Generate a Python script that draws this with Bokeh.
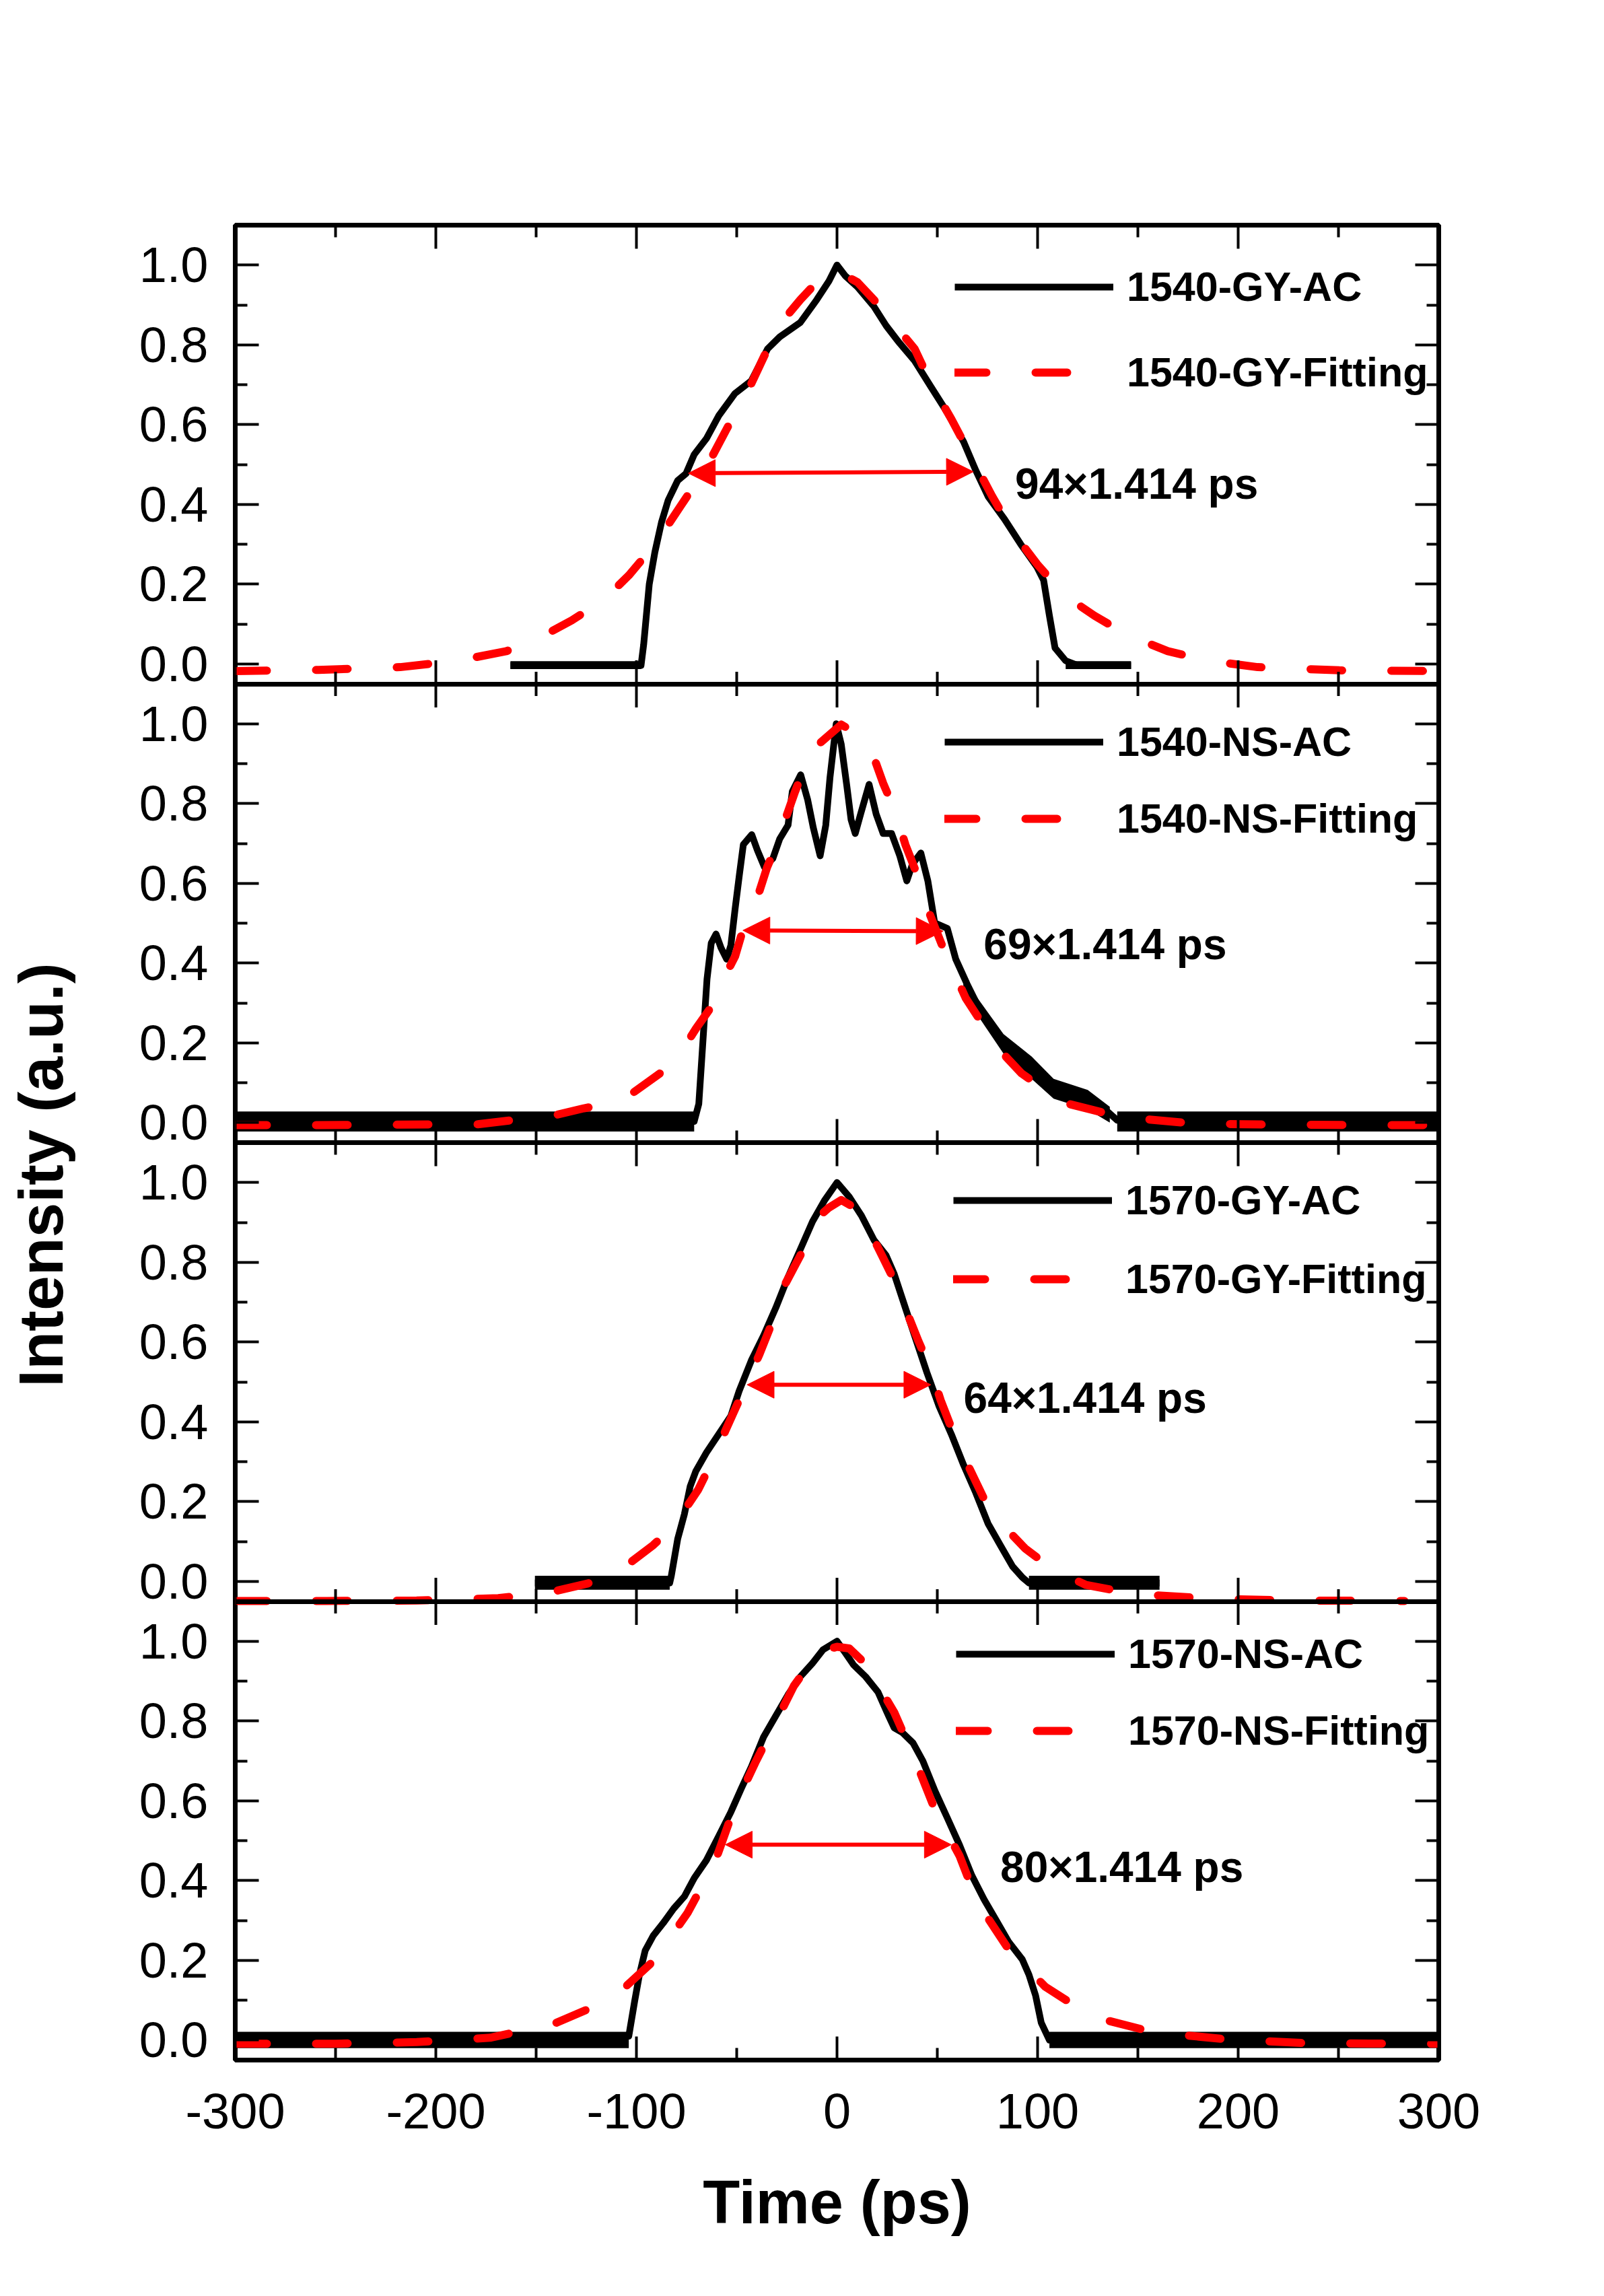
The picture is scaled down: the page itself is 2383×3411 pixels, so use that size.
import math
from bokeh.plotting import figure
from bokeh.models import (Range1d, LinearAxis, FixedTicker, PrintfTickFormatter,
                          Legend, LegendItem, Arrow, NormalHead, Label)
from bokeh.layouts import row, column
from bokeh.embed import file_html
from bokeh.resources import INLINE

FONT = "Liberation Sans"

# ---------------- data ----------------
x_major = [-300, -200, -100, 0, 100, 200, 300]
x_minor = [-250, -150, -50, 50, 150, 250]
y_major = [0.0, 0.2, 0.4, 0.6, 0.8, 1.0]
y_minor = [0.1, 0.3, 0.5, 0.7, 0.9]
x_lo, x_hi = -300, 300
y_lo, y_hi = -0.05, 1.1

names = ["1540-GY", "1540-NS", "1570-GY", "1570-NS"]
fwhm_labels = ["94\u00d71.414 ps", "69\u00d71.414 ps", "64\u00d71.414 ps", "80\u00d71.414 ps"]

# panel 1: 1540-GY
p1_ac_x = [-162.8, -130.0, -97.7, -96.4, -93.6, -90.8, -87.5, -84.2, -79.4, -75.3,
           -71.2, -65.1, -59.0, -50.9, -42.7, -38.6, -34.6, -28.5, -18.3, -10.1,
           -4.0, 0.0, 4.1, 10.2, 18.4, 24.5, 30.6, 38.7, 46.8, 55.0,
           63.1, 69.2, 75.3, 83.5, 91.6, 99.8, 103.0, 105.9, 108.7, 114.0,
           120.1, 146.6]
p1_ac_y = [-0.004, -0.003, -0.004, 0.048, 0.2, 0.28, 0.355, 0.41, 0.46, 0.477,
           0.525, 0.565, 0.622, 0.678, 0.71, 0.75, 0.79, 0.82, 0.856, 0.913,
           0.96, 1.0, 0.973, 0.945, 0.896, 0.848, 0.808, 0.76, 0.695, 0.63,
           0.557, 0.485, 0.42, 0.363, 0.3, 0.242, 0.21, 0.121, 0.04, 0.008,
           -0.004, -0.004]
p1_fit_x = [-300, -258.5, -217.8, -189.3, -164.8, -148.6, -132.3, -116, -103.8, -93.6,
            -85.5, -75.3, -65.1, -54.9, -42.7, -34.6, -26.4, -18.3, -10.1, 0,
            10.2, 18.4, 26.5, 38.7, 46.8, 57, 67.2, 77.4, 87.6, 99.8,
            114, 128.3, 144.6, 164.9, 185.3, 209.7, 250.4, 300]
p1_fit_y = [-0.018, -0.015, -0.008, 0.008, 0.032, 0.065, 0.109, 0.162, 0.222, 0.283,
            0.339, 0.416, 0.493, 0.59, 0.703, 0.79, 0.864, 0.913, 0.957, 0.985,
            0.957, 0.913, 0.864, 0.79, 0.703, 0.614, 0.517, 0.42, 0.331, 0.25,
            0.17, 0.121, 0.073, 0.032, 0.008, -0.008, -0.016, -0.018]
p1_band = [([-162.8, -97.7], [-0.013, -0.013], [0.007, 0.007]),
           ([114.0, 146.6], [-0.013, -0.013], [0.007, 0.007])]

# panel 2: 1540-NS
p2_ac_x = [-300, -71.2, -68.9, -66.9, -64.8, -62.7, -60.3, -57.8, -55.0, -52.9,
           -50.8, -48.7, -46.7, -42.5, -39.7, -36.2, -32.0, -28.6, -24.4, -22.3,
           -18.1, -14.6, -11.8, -8.4, -5.6, -3.5, -0.4, 2.1, 4.9, 7.0,
           9.1, 11.8, 16.0, 19.5, 23.0, 27.2, 31.3, 34.8, 37.6, 41.8,
           45.3, 48.7, 55.0, 59.2, 64.8, 70.3, 75.9, 82.9, 88.4, 96.8,
           107.9, 119.1, 130.2, 134.4, 139.7, 300]
p2_ac_y = [0.003, 0.003, 0.047, 0.20, 0.36, 0.45, 0.473, 0.438, 0.41, 0.445,
           0.536, 0.62, 0.697, 0.722, 0.683, 0.641, 0.662, 0.711, 0.746, 0.83,
           0.872, 0.809, 0.739, 0.669, 0.746, 0.865, 1.0, 0.949, 0.844, 0.76,
           0.725, 0.774, 0.848, 0.774, 0.725, 0.725, 0.669, 0.606, 0.648, 0.676,
           0.606, 0.501, 0.487, 0.41, 0.348, 0.292, 0.25, 0.2, 0.159, 0.131,
           0.096, 0.075, 0.047, 0.03, 0.006, 0.003]
p2_fit_x = [-300, -258.5, -217.8, -179.1, -140.4, -126.2, -107.8, -84.3, -77.3, -70.3,
            -63.4, -56.4, -50.8, -46.7, -39.7, -34.8, -30.0, -25.8, -20.9, -16.0,
            -9.1, 2.1, 11.8, 18.8, 23.0, 29.2, 34.1, 39.0, 42.5, 47.4,
            52.9, 57.8, 64.1, 73.1, 81.5, 91.9, 101.7, 115.6, 126.7, 140.5,
            177.1, 217.8, 258.5, 300]
p2_fit_y = [-0.006, -0.006, -0.005, -0.004, 0.019, 0.036, 0.053, 0.138, 0.18, 0.236,
            0.285, 0.362, 0.417, 0.487, 0.564, 0.641, 0.697, 0.76, 0.83, 0.893,
            0.949, 0.998, 0.97, 0.91, 0.851, 0.778, 0.697, 0.634, 0.571, 0.508,
            0.438, 0.383, 0.313, 0.243, 0.18, 0.124, 0.089, 0.047, 0.033, 0.015,
            -0.002, -0.005, -0.006, -0.006]
p2_band = [([-300, -71.2], [-0.022, -0.022], [0.028, 0.028]),
           ([139.7, 300], [-0.022, -0.022], [0.028, 0.028]),
           ([63, 70, 83, 97, 108, 125, 136],
            [0.33, 0.27, 0.173, 0.11, 0.06, 0.033, 0.0],
            [0.37, 0.313, 0.222, 0.166, 0.11, 0.082, 0.04])]

# panel 3: 1570-GY
p3_ac_x = [-150.6, -83.4, -82.6, -79.4, -76.1, -73.2, -70.4, -65.1, -59.0, -52.9,
           -48.8, -42.7, -36.6, -30.5, -24.4, -18.3, -12.2, -6.1, 0, 6.1,
           12.2, 18.4, 24.5, 28.5, 34.6, 38.7, 44.8, 50.9, 57.0, 63.1,
           69.2, 75.3, 81.4, 87.6, 92.4, 95.7, 160.8]
p3_ac_y = [-0.004, -0.004, 0.014, 0.107, 0.168, 0.238, 0.276, 0.323, 0.369, 0.415,
           0.477, 0.554, 0.616, 0.686, 0.763, 0.832, 0.902, 0.956, 1.0, 0.964,
           0.917, 0.856, 0.817, 0.771, 0.678, 0.616, 0.524, 0.439, 0.369, 0.292,
           0.222, 0.145, 0.091, 0.037, 0.010, -0.004, -0.004]
p3_fit_x = [-300, -254.4, -209.6, -168.9, -144.5, -124.1, -107.8, -91.6, -83.4, -75.3,
            -69.2, -62.3, -55.7, -50.9, -46.0, -38.6, -32.5, -26.4, -18.3, -10.1,
            -4.0, 2.1, 10.2, 16.3, 22.4, 28.5, 34.6, 40.7, 46.8, 51.7,
            57.0, 65.2, 73.3, 83.5, 93.7, 107.9, 124.2, 148.6, 189.3, 230.0,
            282.9]
p3_fit_y = [-0.049, -0.049, -0.048, -0.042, -0.029, -0.005, 0.029, 0.091, 0.130, 0.184,
            0.230, 0.300, 0.377, 0.431, 0.485, 0.570, 0.647, 0.740, 0.817, 0.910,
            0.937, 0.956, 0.933, 0.879, 0.817, 0.755, 0.678, 0.601, 0.531, 0.454,
            0.385, 0.292, 0.207, 0.137, 0.083, 0.029, -0.009, -0.032, -0.044, -0.048,
            -0.049]
p3_band = [([-150.6, -83.4], [-0.021, -0.021], [0.014, 0.014]),
           ([95.7, 160.8], [-0.021, -0.021], [0.014, 0.014])]

# panel 4: 1570-NS
p4_ac_x = [-300, -103.8, -100.9, -98.5, -95.6, -91.6, -86.7, -81.4, -76.1, -71.2,
           -65.1, -59.0, -52.9, -47.6, -42.7, -36.6, -30.5, -24.4, -18.3, -12.2,
           -6.9, 0, 4.1, 8.2, 14.3, 20.4, 25.7, 28.5, 32.6, 37.9,
           42.8, 48.9, 55.0, 61.1, 67.2, 73.3, 79.4, 85.5, 92.4, 95.7,
           99.0, 101.8, 105.9, 300]
p4_ac_y = [0.0, 0.01, 0.097, 0.164, 0.225, 0.262, 0.293, 0.33, 0.36, 0.406,
           0.451, 0.511, 0.572, 0.632, 0.685, 0.76, 0.813, 0.866, 0.911, 0.945,
           0.979, 1.0, 0.971, 0.941, 0.911, 0.873, 0.813, 0.783, 0.771, 0.745,
           0.700, 0.624, 0.557, 0.489, 0.413, 0.353, 0.3, 0.247, 0.202, 0.164,
           0.112, 0.044, 0.0, 0.0]
p4_fit_x = [-300, -250.3, -209.6, -173.0, -141.6, -111.9, -90.7, -74.5, -61.1, -50.9,
            -40.7, -31.3, -21.5, -9.3, 0, 6.1, 14.3, 28.5, 39.5, 49.3,
            61.1, 70.1, 85.5, 103.8, 127.0, 157.6, 194.2, 234.9, 300]
p4_fit_y = [-0.009, -0.009, -0.005, 0.006, 0.040, 0.104, 0.202, 0.319, 0.443, 0.587,
            0.696, 0.790, 0.888, 0.973, 0.986, 0.982, 0.943, 0.822, 0.696, 0.572,
            0.462, 0.345, 0.228, 0.134, 0.059, 0.020, 0.002, -0.008, -0.009]
p4_band = [([-300, -103.8], [-0.020, -0.020], [0.021, 0.021]),
           ([105.9, 300], [-0.020, -0.020], [0.021, 0.021])]

# FWHM arrows (x_start, y_start, x_end, y_end) and label anchors (x, y)
arrows = [(-74.1, 0.478, 68.0, 0.482),
          (-46.9, 0.482, 52.9, 0.480),
          (-44.8, 0.493, 46.8, 0.493),
          (-55.7, 0.490, 57.0, 0.490)]
label_pos = [(88.8, 0.452), (73.1, 0.447), (63.1, 0.460), (81.4, 0.433)]
# legend: label start x, row-1 y, row-2 y (data units)
legend_pos = [(144.6, 0.965, 0.750), (139.7, 0.974, 0.782),
              (143.8, 0.974, 0.777), (145.4, 0.988, 0.796)]

panels = [
    (p1_ac_x, p1_ac_y, p1_fit_x, p1_fit_y, p1_band),
    (p2_ac_x, p2_ac_y, p2_fit_x, p2_fit_y, p2_band),
    (p3_ac_x, p3_ac_y, p3_fit_x, p3_fit_y, p3_band),
    (p4_ac_x, p4_ac_y, p4_fit_x, p4_fit_y, p4_band),
]

# ---------------- layout ----------------
PAGE_W, PAGE_H = 2367, 3395
LEFT_W = 140
FRAME_W = 1788
FRAME_H = 2726
BORDER_L = 209
BORDER_R = PAGE_W - LEFT_W - BORDER_L - FRAME_W
TOP = 334
BOTTOM = PAGE_H - TOP - FRAME_H

TICK_MAJ, TICK_MIN, TICK_W = 35, 18, 4
LEGEND_DROP = 12
GLYPH_W, STANDOFF = 236, 20

n = len(panels)
span = y_hi - y_lo
offsets = [(n - 1 - i) * span for i in range(n)]
stack_lo, stack_hi = y_lo, y_lo + n * span
px_per_x = FRAME_W / (x_hi - x_lo)
px_per_y = FRAME_H / (stack_hi - stack_lo)

p = figure(frame_width=FRAME_W, frame_height=FRAME_H,
           x_range=Range1d(x_lo, x_hi), y_range=Range1d(stack_lo, stack_hi),
           x_axis_type=None, y_axis_type=None,
           min_border_left=BORDER_L, min_border_right=BORDER_R,
           min_border_top=TOP, min_border_bottom=BOTTOM,
           output_backend="svg", toolbar_location=None)
p.outline_line_color = "black"
p.outline_line_width = 7
p.background_fill_color = "white"
p.border_fill_color = "white"

for i, off in enumerate(offsets):
    p.extra_y_ranges["panel%d" % i] = Range1d(stack_lo - off, stack_hi - off)

y_ticks_all, y_minor_all, y_overrides = [], [], {}
for off in offsets:
    for v in y_major:
        t = v + off
        y_ticks_all.append(t)
        y_overrides[t] = "%.1f" % v
    for v in y_minor:
        y_minor_all.append(v + off)


def style_ticks(ax):
    ax.axis_line_color = None
    ax.major_tick_in = TICK_MAJ
    ax.major_tick_out = 0
    ax.minor_tick_in = TICK_MIN
    ax.minor_tick_out = 0
    ax.major_tick_line_width = TICK_W
    ax.minor_tick_line_width = TICK_W
    ax.major_tick_line_color = "black"
    ax.minor_tick_line_color = "black"


def hide_labels(ax):
    ax.major_label_text_font_size = "0px"
    ax.major_label_text_color = None
    ax.major_label_text_alpha = 0
    ax.major_label_standoff = 0


left = LinearAxis(ticker=FixedTicker(ticks=y_ticks_all, minor_ticks=y_minor_all),
                  formatter=PrintfTickFormatter(format="%.1f"),
                  major_label_overrides=y_overrides)
style_ticks(left)
left.major_label_text_font = FONT
left.major_label_text_font_size = "74px"
left.major_label_text_color = "black"
left.major_label_standoff = 40

right = LinearAxis(ticker=FixedTicker(ticks=y_ticks_all, minor_ticks=y_minor_all))
style_ticks(right)
hide_labels(right)

above = LinearAxis(ticker=FixedTicker(ticks=x_major, minor_ticks=x_minor))
style_ticks(above)
hide_labels(above)

below = LinearAxis(ticker=FixedTicker(ticks=x_major, minor_ticks=x_minor),
                   formatter=PrintfTickFormatter(format="%d"))
style_ticks(below)
below.major_label_text_font = FONT
below.major_label_text_font_size = "74px"
below.major_label_text_color = "black"
below.major_label_standoff = 50
below.axis_label = "Time (ps)"
below.axis_label_text_font = FONT
below.axis_label_text_font_size = "90px"
below.axis_label_text_font_style = "bold"
below.axis_label_text_color = "black"
below.axis_label_standoff = 57

p.add_layout(left, "left")
p.add_layout(right, "right")
p.add_layout(above, "above")
p.add_layout(below, "below")

for i, (acx, acy, fx, fy, bands) in enumerate(panels):
    rn = "panel%d" % i
    for bx, blo, bhi in bands:
        p.varea(x=bx, y1=blo, y2=bhi, fill_color="black", y_range_name=rn)
    r_ac = p.line(acx, acy, line_color="black", line_width=10, line_join="round",
                  y_range_name=rn)
    r_fit = p.line(fx, fy, line_color="#FF0000", line_width=12,
                   line_dash="47 73", line_cap="round", line_join="round",
                   y_range_name=rn)

    xs, ys, xe, ye = arrows[i]
    p.add_layout(Arrow(start=NormalHead(size=40, fill_color="#FF0000", line_color="#FF0000", line_width=1),
                       end=NormalHead(size=40, fill_color="#FF0000", line_color="#FF0000", line_width=1),
                       x_start=xs, y_start=ys, x_end=xe, y_end=ye,
                       line_color="#FF0000", line_width=6, y_range_name=rn))
    lx, ly = label_pos[i]
    p.add_layout(Label(x=lx, y=ly, text=fwhm_labels[i], text_font=FONT,
                       text_font_size="64px", text_font_style="bold",
                       text_color="black", text_baseline="middle", text_align="left",
                       y_range_name=rn))

    tx0, r1, r2 = legend_pos[i]
    item_h = 72
    spacing = int(round((r1 - r2) * px_per_y - item_h))
    loc_x = int(round((tx0 - x_lo) * px_per_x - GLYPH_W - STANDOFF))
    loc_y = int(round((r2 + offsets[i] - stack_lo) * px_per_y - item_h / 2 - LEGEND_DROP))
    legend = Legend(items=[LegendItem(label=names[i] + "-AC", renderers=[r_ac]),
                           LegendItem(label=names[i] + "-Fitting", renderers=[r_fit])],
                    location=(loc_x, loc_y), orientation="vertical",
                    glyph_width=GLYPH_W, glyph_height=item_h, label_height=item_h,
                    label_standoff=STANDOFF, spacing=spacing, padding=0, margin=0,
                    border_line_color=None, background_fill_alpha=0,
                    label_text_font=FONT, label_text_font_size="61px",
                    label_text_font_style="bold", label_text_color="black")
    p.add_layout(legend)

# panel separators and their inward x ticks
bounds = [off + y_lo for off in offsets[:-1]]
p.hspan(y=bounds, line_color="black", line_width=7)
tx, ty0, ty1 = [], [], []
for yb in bounds:
    for x in x_major:
        tx.append(x); ty0.append(yb - TICK_MAJ / px_per_y); ty1.append(yb + TICK_MAJ / px_per_y)
    for x in x_minor:
        tx.append(x); ty0.append(yb - TICK_MIN / px_per_y); ty1.append(yb + TICK_MIN / px_per_y)
p.segment(x0=tx, y0=ty0, x1=tx, y1=ty1, line_color="black", line_width=TICK_W)

# y-axis title spanning all panels
ylab = figure(width=LEFT_W, height=PAGE_H, x_range=Range1d(0, LEFT_W),
              y_range=Range1d(0, PAGE_H), x_axis_type=None, y_axis_type=None,
              min_border=0, output_backend="svg", toolbar_location=None)
ylab.outline_line_color = None
ylab.add_layout(Label(x=60, y=PAGE_H - 1745, x_units="screen", y_units="screen",
                      text="Intensity (a.u.)", angle=math.pi / 2,
                      text_font=FONT, text_font_size="93px", text_font_style="bold",
                      text_color="black", text_align="center", text_baseline="alphabetic"))

layout = row(column(ylab), column(p), spacing=0)
open("out.html", "w").write(file_html(layout, INLINE))
